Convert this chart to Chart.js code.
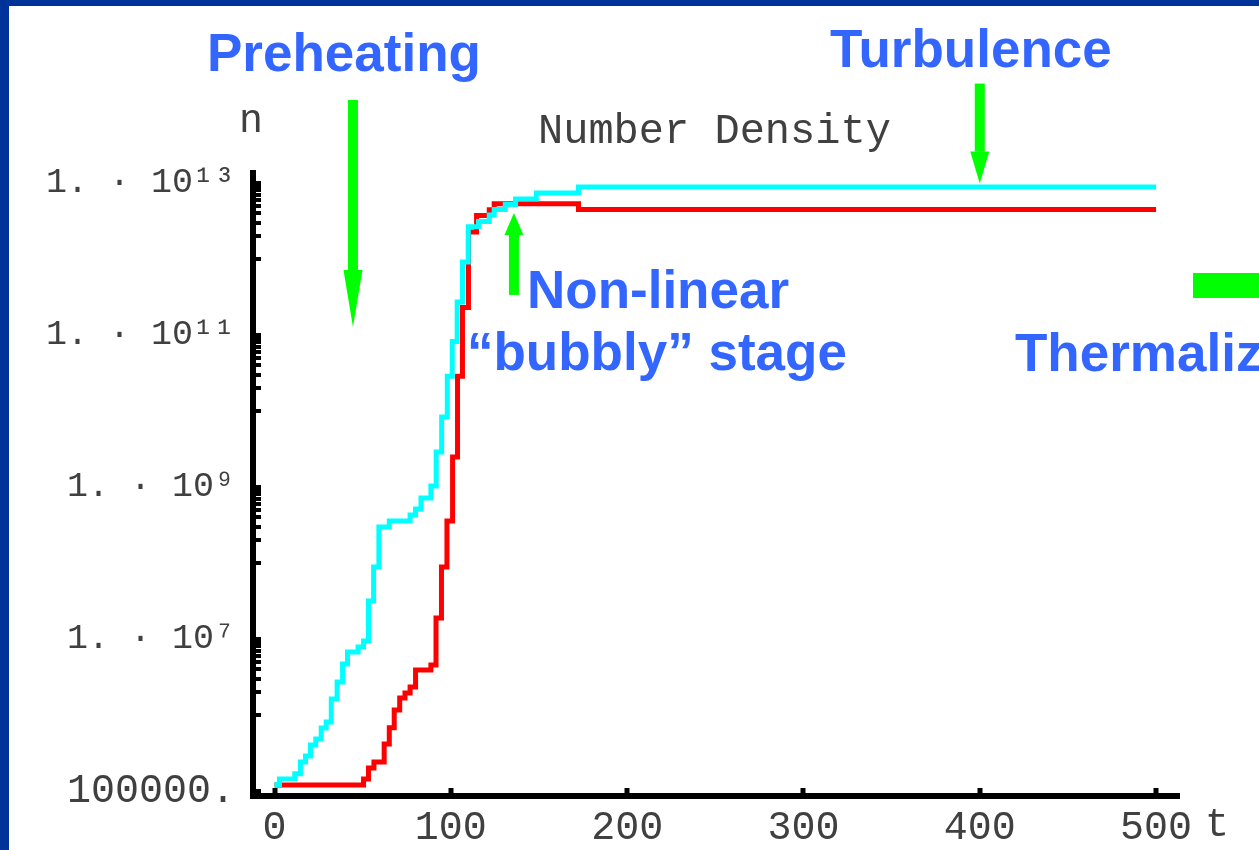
<!DOCTYPE html>
<html>
<head>
<meta charset="utf-8">
<script src="https://cdn.jsdelivr.net/npm/chart.js@4.4.1/dist/chart.umd.min.js"></script>
<style>
  html, body { margin: 0; padding: 0; background: #fff; overflow: hidden; }
  #wrap { position: relative; width: 1259px; height: 850px; overflow: hidden; background: #fff; }
  canvas { position: absolute; left: 0; top: 0; }
  .frameTop { position: absolute; left: 0; top: 0; width: 1259px; height: 6px; background: #003399; z-index: 5; }
  .frameLeft { position: absolute; left: 0; top: 0; width: 9px; height: 850px; background: #003399; z-index: 5; }
  .note { position: absolute; font-family: "Liberation Sans", Arial, sans-serif; font-weight: bold;
          font-size: 53px; line-height: 53px; color: #3366ff; white-space: nowrap; z-index: 3; }
  .mono { position: absolute; font-family: "Liberation Mono", "Courier New", monospace; color: #404040;
          line-height: 1; white-space: nowrap; z-index: 3; }
  .bar { position: absolute; background: #00ff00; z-index: 3; }
</style>
</head>
<body>
<div id="wrap">
  <canvas id="density_chart" width="1259" height="850"></canvas>
  <div class="frameTop"></div>
  <div class="frameLeft"></div>

  <div class="mono" style="left:538px; top:111px; font-size:42px;">Number Density</div>
  <div class="mono" style="left:239px; top:102px; font-size:40px;">n</div>
  <div class="mono" style="left:1205px; top:806px; font-size:40px;">t</div>

  <div class="note" style="left:207px; top:26px;">Preheating</div>
  <div class="note" style="left:830px; top:22px;">Turbulence</div>
  <div class="note" style="left:527px; top:263px;">Non-linear</div>
  <div class="note" style="left:467px; top:325px;">“bubbly” stage</div>
  <div class="note" style="left:1015px; top:326px;">Thermalization</div>
  <div class="bar" style="left:1193px; top:273px; width:80px; height:25px;"></div>
</div>

<script>
// Number density n(t) (step curves)

// cyan curve
const t_cyan = [0, 2.8, 11.5, 14.7, 17.6, 20.4, 23.4, 26.5, 29.3, 32.2, 35.5, 38.6, 41.4, 47.4,
                50.5, 53.3, 56.2, 59.2, 65.1, 76.9, 80.0, 83.1, 88.7, 91.7, 94.8, 98.0, 100.8,
                103.6, 106.6, 109.9, 115.7, 121.8, 124.6, 130.9, 136.7, 148.5, 172.4, 500];
const n_cyan = [1.22e5, 1.44e5, 1.68e5, 2.41e5, 2.89e5, 4.03e5, 4.83e5, 6.74e5, 8.09e5, 1.62e6,
                2.72e6, 4.69e6, 6.75e6, 7.85e6, 9.42e6, 3.16e7, 8.86e7, 2.98e8, 3.57e8, 4.28e8,
                5.14e8, 7.17e8, 1.03e9, 2.89e9, 8.34e9, 2.85e10, 8.21e10, 2.72e11, 9.14e11,
                2.64e12, 3.11e12, 3.79e12, 4.48e12, 5.21e12, 6.15e12, 7.38e12, 8.85e12, 8.85e12];

// red curve
const t_red = [0, 50.5, 53.3, 56.4, 62.2, 65.1, 67.9, 71.0, 74.0, 76.9, 80.0, 88.7, 91.6, 94.7,
               97.8, 101.0, 103.8, 106.6, 110.0, 114.6, 121.8, 124.6, 172.4, 500];
const n_red = [1.2e5, 1.44e5, 2.01e5, 2.41e5, 4.15e5, 6.81e5, 1.16e6, 1.67e6, 1.95e6, 2.33e6,
               3.91e6, 4.55e6, 1.89e7, 8.86e7, 3.57e8, 2.48e9, 2.85e10, 2.30e11, 2.26e12,
               3.73e12, 4.42e12, 5.3e12, 4.48e12, 4.48e12];

// axes
const xTickValues = [0, 100, 200, 300, 400, 500];
const yTickValues = [1e5, 1e7, 1e9, 1e11, 1e13];
const yTickLabels = ['100000.', '1. · 10⁷', '1. · 10⁹', '1. · 10¹¹', '1. · 10¹³'];
const xMin = -12.2, xMax = 513;
const yMin = 8.59e4, yMax = 1.35e13;

// green arrows (tip in data units)
const arrows = [
  { t: 44.5, n: 1.27e11, dir: 'down', len: 227, head: 57 },   // preheating
  { t: 400,  n: 9.8e12,  dir: 'down', len: 100, head: 32 },   // turbulence
  { t: 135.8, n: 4.03e12, dir: 'up',  len: 82,  head: 22 }    // bubbly stage
];

const MONO = '"Liberation Mono", "Courier New", monospace';

function toXY(ts, ns) {
  return ts.map((t, i) => ({ x: t, y: ns[i] }));
}

// every y tick: 1..9 x 10^(k-1) below each labelled power, like the original
function buildYTicks() {
  let vals = [];
  for (let i = 0; i < yTickValues.length; i++) {
    let base = yTickValues[i] / 10;
    for (let m = 1; m <= 9; m++) vals.push(m * base);
    vals.push(yTickValues[i]);
  }
  return vals.filter(v => v >= yMin && v <= yMax);
}

const innerTicks = {
  id: 'innerTicks',
  afterDraw(chart) {
    const ctx = chart.ctx;
    const x = chart.scales.x, y = chart.scales.y;
    const area = chart.chartArea;
    ctx.save();
    ctx.strokeStyle = '#000';
    ctx.lineWidth = 4;
    buildYTicks().forEach(v => {
      let py = Math.round(y.getPixelForValue(v));
      ctx.beginPath();
      ctx.moveTo(area.left, py);
      ctx.lineTo(area.left + 8, py);
      ctx.stroke();
    });
    ctx.lineWidth = 5;
    xTickValues.forEach(v => {
      let px = Math.round(x.getPixelForValue(v));
      ctx.beginPath();
      ctx.moveTo(px, area.bottom);
      ctx.lineTo(px, area.bottom - 8);
      ctx.stroke();
    });
    ctx.restore();
  }
};

const greenArrows = {
  id: 'greenArrows',
  afterDraw(chart) {
    const ctx = chart.ctx;
    ctx.save();
    ctx.fillStyle = '#00ff00';
    arrows.forEach(a => {
      let px = chart.scales.x.getPixelForValue(a.t);
      let py = chart.scales.y.getPixelForValue(a.n);
      let s = a.dir === 'down' ? -1 : 1;   // direction from tip to tail
      ctx.fillRect(px - 5, Math.min(py + s * a.head, py + s * a.len), 10, a.len - a.head);
      ctx.beginPath();
      ctx.moveTo(px, py);
      ctx.lineTo(px - 9.5, py + s * a.head);
      ctx.lineTo(px + 9.5, py + s * a.head);
      ctx.closePath();
      ctx.fill();
    });
    ctx.restore();
  }
};

const ctx_density = document.getElementById('density_chart').getContext('2d');

let density_chart = new Chart(ctx_density, {
  type: 'line',
  data: {
    datasets: [
      {
        label: 'cyan',
        data: toXY(t_cyan, n_cyan),
        borderColor: '#00ffff',
        borderWidth: 5,
        stepped: 'before',
        pointRadius: 0,
        fill: false
      },
      {
        label: 'red',
        data: toXY(t_red, n_red),
        borderColor: '#ff0000',
        borderWidth: 5,
        stepped: 'before',
        pointRadius: 0,
        fill: false
      }
    ]
  },
  options: {
    responsive: false,
    devicePixelRatio: 1,
    animation: false,
    layout: { padding: { top: 173, right: 80, left: 0, bottom: 0 } },
    plugins: {
      legend: { display: false },
      tooltip: { enabled: false },
      title: { display: false }
    },
    scales: {
      x: {
        type: 'linear',
        min: xMin,
        max: xMax,
        afterFit: function (scale) { scale.height = 54; },
        afterBuildTicks: function (scale) {
          scale.ticks = xTickValues.map(v => ({ value: v }));
        },
        ticks: {
          autoSkip: false,
          maxRotation: 0,
          padding: 8,
          color: '#404040',
          font: { family: MONO, size: 40 },
          callback: function (value) { return String(value); }
        },
        grid: { display: false, drawTicks: false },
        border: { display: true, color: '#000', width: 6 }
      },
      y: {
        type: 'logarithmic',
        min: yMin,
        max: yMax,
        afterFit: function (scale) { scale.width = 253; },
        afterBuildTicks: function (scale) {
          scale.ticks = buildYTicks().map(v => ({ value: v }));
        },
        ticks: {
          autoSkip: false,
          padding: 18,
          color: '#404040',
          font: function (c) {
            let big = c.tick && c.tick.value === 1e5;
            return { family: MONO, size: big ? 40 : 35 };
          },
          callback: function (value) {
            let i = yTickValues.indexOf(value);
            return i >= 0 ? yTickLabels[i] : '';
          }
        },
        grid: { display: false, drawTicks: false },
        border: { display: true, color: '#000', width: 6 }
      }
    }
  },
  plugins: [innerTicks, greenArrows]
});
</script>
</body>
</html>
